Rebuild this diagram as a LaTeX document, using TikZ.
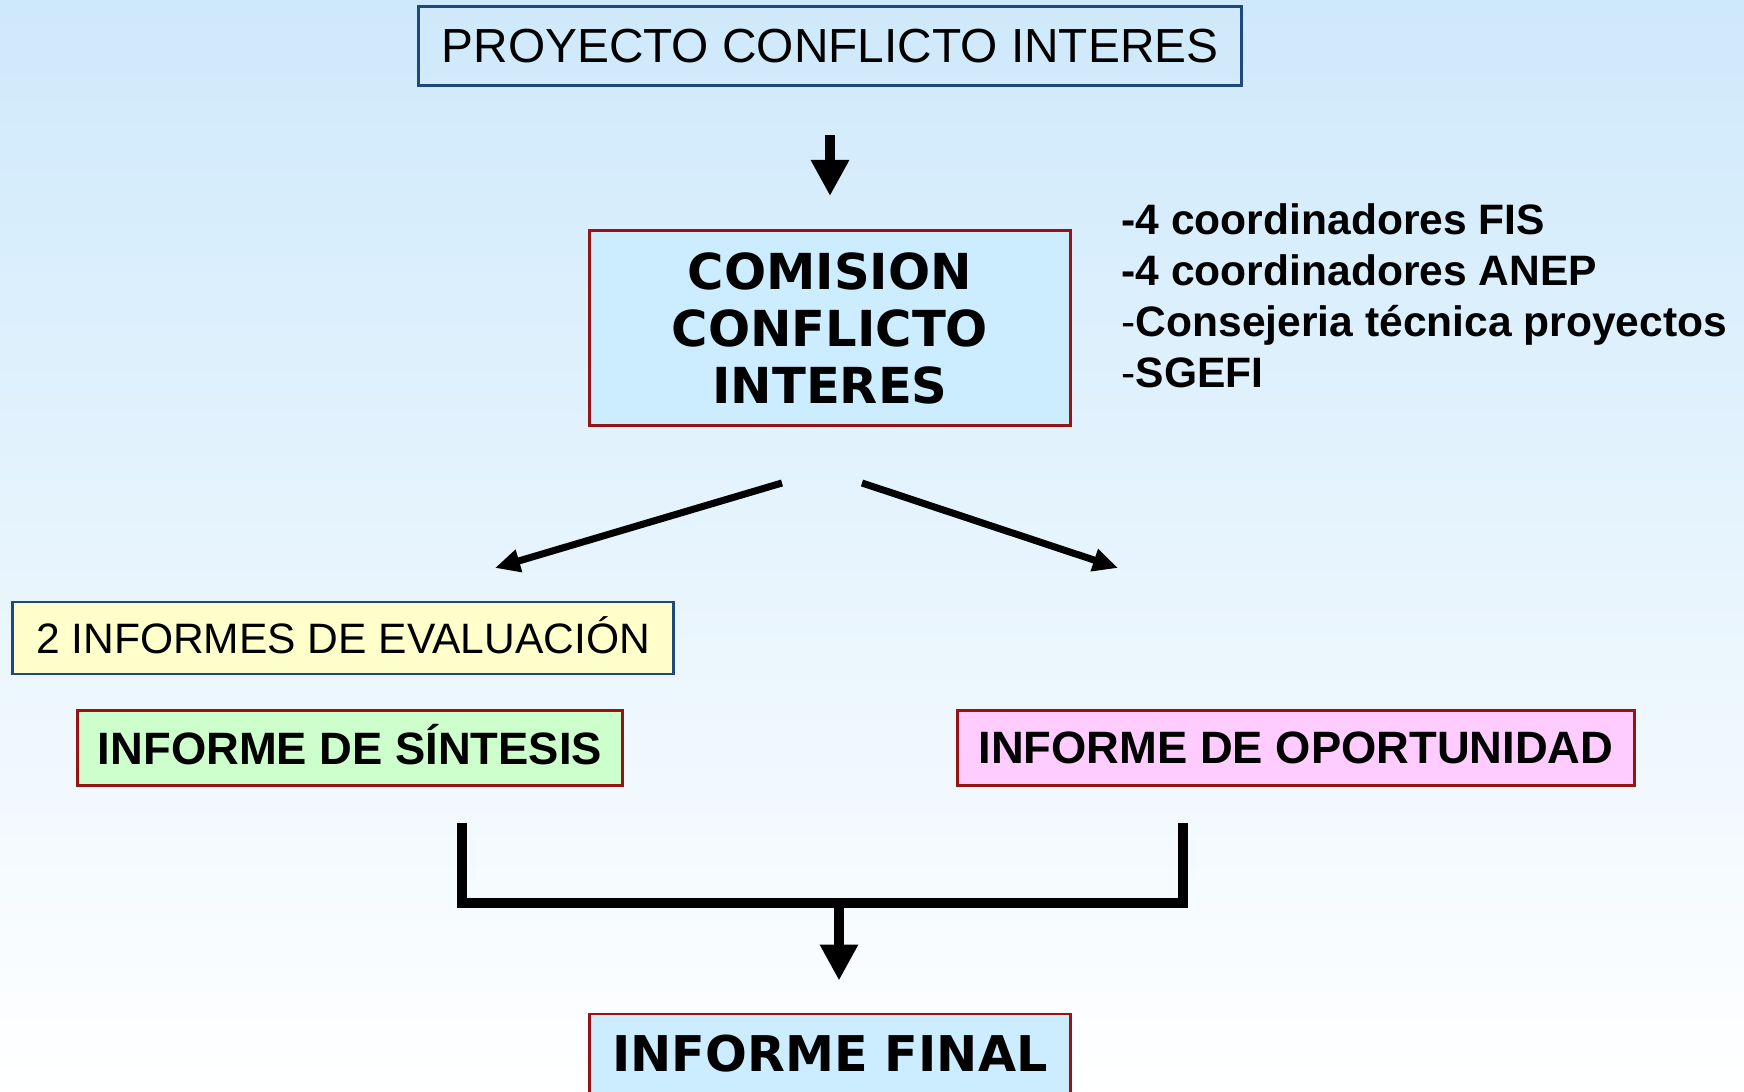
\documentclass[tikz,border=0pt]{standalone}
\usepackage{fontspec}
\setmainfont{Liberation Sans}
\newfontfamily\verdana{DejaVu Sans}
\usetikzlibrary{arrows.meta}
\definecolor{bgtop}{RGB}{206,233,251}
\definecolor{azulborde}{RGB}{31,73,125}
\definecolor{rojoborde}{RGB}{150,20,20}
\definecolor{celeste}{RGB}{204,236,255}
\definecolor{amarillo}{RGB}{255,255,204}
\definecolor{verde}{RGB}{204,255,204}
\definecolor{rosa}{RGB}{255,204,255}

\begin{document}
\begin{tikzpicture}[x=0.01cm,y=-0.01cm,
	caja/.style={draw, line width=0.8pt, inner sep=0pt, align=center},
	cajaroja/.style={caja, draw=rojoborde},
	flechagorda/.style={line width=3pt, -{Triangle[length=0.36cm, width=0.36cm]}},
	flechafina/.style={line width=2pt, -{Triangle[length=0.25cm, width=0.22cm]}}]
	\path[use as bounding box, clip] (0,0) rectangle (1744,1092);
	\shade[top color=bgtop, bottom color=white] (0,0) rectangle (1744,1092);

	\node [caja, draw=azulborde, minimum width=8.22cm, minimum height=0.79cm, font=\fontsize{13.6}{16}\selectfont] (proyecto) at (830,46) {PROYECTO CONFLICTO INTERES};
	\node [cajaroja, fill=celeste, minimum width=4.81cm, minimum height=1.95cm, font=\verdana\bfseries\fontsize{14.1}{16.2}\selectfont] (comision) at (830,328) {COMISION\\CONFLICTO\\INTERES};
	\node [anchor=west, align=left, inner sep=0pt, font=\bfseries\fontsize{12.1}{14.5}\selectfont] (miembros) at (1121,296) {-4 coordinadores FIS\\-4 coordinadores ANEP\\{\mdseries -}Consejeria técnica proyectos\\{\mdseries -}SGEFI};

	\node [caja, draw=azulborde, fill=amarillo, minimum width=6.6cm, minimum height=0.72cm, text height=8.7pt, text depth=0pt, font=\fontsize{12.1}{14.5}\selectfont] (evaluacion) at (343,638) {2 INFORMES DE EVALUACIÓN};
	\node [cajaroja, fill=verde, minimum width=5.45cm, minimum height=0.75cm, text height=9.2pt, text depth=0pt, font=\bfseries\fontsize{12.9}{15}\selectfont] (sintesis) at (350,748) {INFORME DE SÍNTESIS};
	\node [cajaroja, fill=rosa, minimum width=6.76cm, minimum height=0.75cm, font=\bfseries\fontsize{12.9}{15}\selectfont] (oportunidad) at (1296,748) {INFORME DE OPORTUNIDAD};
	\node [cajaroja, fill=celeste, minimum width=4.81cm, minimum height=0.8cm, font=\verdana\bfseries\fontsize{14}{16}\selectfont] (final) at (830,1054) {INFORME FINAL};

	% flechas
	\coordinate (izq0) at (782,483);
	\coordinate (izq1) at (495,568);
	\coordinate (der0) at (862,483);
	\coordinate (der1) at (1118,568);
	\coordinate (brazoizq) at (462,823);
	\coordinate (brazoder) at (1183,823);
	\coordinate (union) at (839,903);

	\draw [flechagorda, shorten <=0.48cm, shorten >=0.33cm] (proyecto) -- (comision);
	\draw [flechafina] (izq0) -- (izq1);
	\draw [flechafina] (der0) -- (der1);
	\draw [line width=3.1pt] (brazoizq) -- (brazoizq |- union) -- (brazoder |- union) -- (brazoder);
	\draw [flechagorda, shorten >=0.32cm] (union) -- (union |- final.north);
\end{tikzpicture}
\end{document}
